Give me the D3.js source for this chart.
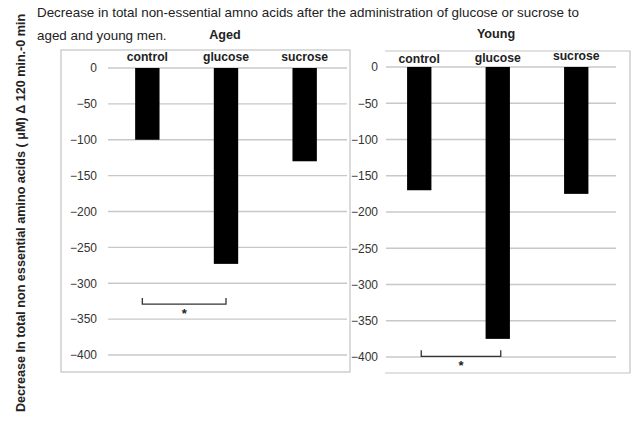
<!DOCTYPE html>
<html><head><meta charset="utf-8">
<script src="https://cdn.jsdelivr.net/npm/d3@7"></script>
<style>body{margin:0;background:#fff}svg{display:block;font-family:"Liberation Sans",Arial,sans-serif}</style>
</head><body>
<svg id="c" width="634" height="421"></svg>
<script>
const categories = ["control", "glucose", "sucrose"];
const agedValues = [-100, -273, -130];
const youngValues = [-170, -375, -175];
const tickValues = [0, -50, -100, -150, -200, -250, -300, -350, -400];
const agedBracket = {from: "control", to: "glucose", level: -329};
const youngBracket = {from: "control", to: "glucose", level: -399};

const svg = d3.select("#c");

svg.append("text").attr("x", 37).attr("y", 17).attr("font-size", 13.4).attr("fill", "#222")
  .text("Decrease in total non-essential amno acids after the administration of glucose or sucrose to");
svg.append("text").attr("x", 37).attr("y", 40).attr("font-size", 13.4).attr("fill", "#222")
  .text("aged and young men.");

svg.append("text").attr("transform", "translate(25,412) rotate(-90)")
  .attr("font-size", 12.6).attr("font-weight", "bold").attr("fill", "#222")
  .text("Decrease In total non essential amino acids ( μM) Δ 120 min.-0 min");

function panel(cfg) {
  const g = svg.append("g");
  const f = cfg.frame;
  if (cfg.leftBorder) {
    g.append("rect").attr("x", f[0]).attr("y", f[1]).attr("width", f[2]-f[0]).attr("height", f[3]-f[1])
      .attr("fill", "none").attr("stroke", "#c4c4c4").attr("stroke-width", 1.2);
  } else {
    g.append("path").attr("d", `M${f[0]},${f[1]}H${f[2]}V${f[3]}H${f[0]}`)
      .attr("fill", "none").attr("stroke", "#c4c4c4").attr("stroke-width", 1.2);
  }
  const x = d3.scaleBand().domain(categories).range(cfg.xRange).paddingInner(0.69).paddingOuter(0.345);
  const y = d3.scaleLinear().domain([0, -400]).range(cfg.yRange);
  g.selectAll(".grid").data(tickValues).join("line")
    .attr("x1", cfg.gridX[0]).attr("x2", cfg.gridX[1])
    .attr("y1", d => y(d)).attr("y2", d => y(d))
    .attr("stroke", "#c8c8c8").attr("stroke-width", 1.3);
  const ax = g.append("g").attr("transform", `translate(${cfg.labelX},0)`)
    .call(d3.axisLeft(y).tickValues(tickValues).tickSize(0).tickPadding(0));
  ax.select(".domain").remove();
  ax.selectAll("text").attr("font-size", 12).attr("fill", "#333").attr("font-family", "Liberation Sans, Arial, sans-serif");
  g.selectAll(".bar").data(cfg.values).join("rect")
    .attr("x", (d, i) => x(categories[i])).attr("width", x.bandwidth())
    .attr("y", y(0)).attr("height", d => y(d) - y(0)).attr("fill", "#000");
  g.selectAll(".cat").data(categories).join("text")
    .attr("x", d => x(d) + x.bandwidth() / 2).attr("y", (d, i) => cfg.catY[i])
    .attr("text-anchor", "middle").attr("font-size", 12.2).attr("font-weight", "bold").attr("fill", "#222")
    .text(d => d);
  g.append("text").attr("x", cfg.titleX).attr("y", cfg.titleY).attr("text-anchor", "middle")
    .attr("font-size", 12.6).attr("font-weight", "bold").attr("fill", "#222").text(cfg.title);
  const b = cfg.bracket;
  const x1 = x(b.from) + x.bandwidth() / 2 + cfg.bOff[0], x2 = x(b.to) + x.bandwidth() / 2 + cfg.bOff[1];
  const by = y(b.level);
  g.append("path").attr("d", `M${x1},${by-6}V${by}H${x2}V${by-6}`)
    .attr("fill", "none").attr("stroke", "#333").attr("stroke-width", 1.3);
  g.append("text").attr("x", (x1 + x2) / 2).attr("y", by + 14).attr("text-anchor", "middle")
    .attr("font-size", 13).attr("font-weight", "bold").attr("fill", "#222").text("*");
}

panel({
  frame: [61, 50, 350, 372], leftBorder: true,
  xRange: [108, 344], yRange: [68, 355], gridX: [108, 347], labelX: 97,
  values: agedValues, catY: [61, 61, 61], title: "Aged", titleX: 225, titleY: 39,
  bracket: agedBracket, bOff: [-5, 0]
});
panel({
  frame: [385, 51, 630, 373], leftBorder: false,
  xRange: [380, 615.5], yRange: [67, 357], gridX: [386, 616], labelX: 378,
  values: youngValues, catY: [63, 62, 60], title: "Young", titleX: 496, titleY: 38,
  bracket: youngBracket, bOff: [2, 3]
});
</script>
</body></html>
